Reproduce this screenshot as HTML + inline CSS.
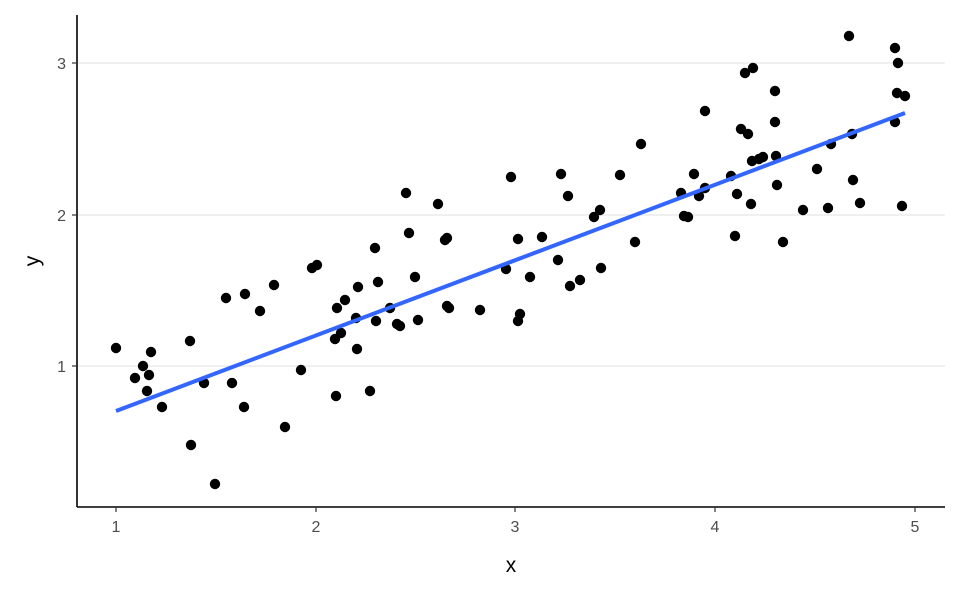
<!DOCTYPE html>
<html><head><meta charset="utf-8"><style>
html,body{margin:0;padding:0;background:#fff;}
svg{display:block;font-family:"Liberation Sans",sans-serif;}
</style></head><body>
<svg width="960" height="593" viewBox="0 0 960 593" xmlns="http://www.w3.org/2000/svg">
<rect width="960" height="593" fill="#fff"/>
<g stroke="#ebebeb" stroke-width="1.4">
<line x1="77" x2="945" y1="63" y2="63"/>
<line x1="77" x2="945" y1="215" y2="215"/>
<line x1="77" x2="945" y1="366" y2="366"/>
</g>
<g fill="#000">
<circle cx="116" cy="348" r="5.2"/><circle cx="135" cy="378" r="5.2"/><circle cx="143" cy="366" r="5.2"/><circle cx="147" cy="391" r="5.2"/><circle cx="149" cy="375" r="5.2"/><circle cx="151" cy="352" r="5.2"/><circle cx="162" cy="407" r="5.2"/><circle cx="190" cy="341" r="5.2"/><circle cx="191" cy="445" r="5.2"/><circle cx="204" cy="383" r="5.2"/><circle cx="215" cy="484" r="5.2"/><circle cx="226" cy="298" r="5.2"/><circle cx="232" cy="383" r="5.2"/><circle cx="244" cy="407" r="5.2"/><circle cx="245" cy="294" r="5.2"/><circle cx="260" cy="311" r="5.2"/><circle cx="274" cy="285" r="5.2"/><circle cx="285" cy="427" r="5.2"/><circle cx="301" cy="370" r="5.2"/><circle cx="312" cy="268" r="5.2"/><circle cx="317" cy="265" r="5.2"/><circle cx="335" cy="339" r="5.2"/><circle cx="336" cy="396" r="5.2"/><circle cx="337" cy="308" r="5.2"/><circle cx="341" cy="333" r="5.2"/><circle cx="345" cy="300" r="5.2"/><circle cx="356" cy="318" r="5.2"/><circle cx="357" cy="349" r="5.2"/><circle cx="358" cy="287" r="5.2"/><circle cx="370" cy="391" r="5.2"/><circle cx="375" cy="248" r="5.2"/><circle cx="376" cy="321" r="5.2"/><circle cx="378" cy="282" r="5.2"/><circle cx="390" cy="308" r="5.2"/><circle cx="397" cy="324" r="5.2"/><circle cx="400" cy="326" r="5.2"/><circle cx="406" cy="193" r="5.2"/><circle cx="409" cy="233" r="5.2"/><circle cx="415" cy="277" r="5.2"/><circle cx="418" cy="320" r="5.2"/><circle cx="438" cy="204" r="5.2"/><circle cx="445" cy="240" r="5.2"/><circle cx="447" cy="238" r="5.2"/><circle cx="447" cy="306" r="5.2"/><circle cx="449" cy="308" r="5.2"/><circle cx="480" cy="310" r="5.2"/><circle cx="506" cy="269" r="5.2"/><circle cx="511" cy="177" r="5.2"/><circle cx="518" cy="321" r="5.2"/><circle cx="518" cy="239" r="5.2"/><circle cx="520" cy="314" r="5.2"/><circle cx="530" cy="277" r="5.2"/><circle cx="542" cy="237" r="5.2"/><circle cx="558" cy="260" r="5.2"/><circle cx="561" cy="174" r="5.2"/><circle cx="568" cy="196" r="5.2"/><circle cx="570" cy="286" r="5.2"/><circle cx="580" cy="280" r="5.2"/><circle cx="594" cy="217" r="5.2"/><circle cx="600" cy="210" r="5.2"/><circle cx="601" cy="268" r="5.2"/><circle cx="620" cy="175" r="5.2"/><circle cx="635" cy="242" r="5.2"/><circle cx="641" cy="144" r="5.2"/><circle cx="681" cy="193" r="5.2"/><circle cx="684" cy="216" r="5.2"/><circle cx="688" cy="217" r="5.2"/><circle cx="694" cy="174" r="5.2"/><circle cx="699" cy="196" r="5.2"/><circle cx="705" cy="188" r="5.2"/><circle cx="705" cy="111" r="5.2"/><circle cx="731" cy="176" r="5.2"/><circle cx="735" cy="236" r="5.2"/><circle cx="737" cy="194" r="5.2"/><circle cx="741" cy="129" r="5.2"/><circle cx="745" cy="73" r="5.2"/><circle cx="748" cy="134" r="5.2"/><circle cx="751" cy="204" r="5.2"/><circle cx="752" cy="161" r="5.2"/><circle cx="753" cy="68" r="5.2"/><circle cx="759" cy="159" r="5.2"/><circle cx="763" cy="157" r="5.2"/><circle cx="775" cy="91" r="5.2"/><circle cx="775" cy="122" r="5.2"/><circle cx="776" cy="156" r="5.2"/><circle cx="777" cy="185" r="5.2"/><circle cx="783" cy="242" r="5.2"/><circle cx="803" cy="210" r="5.2"/><circle cx="817" cy="169" r="5.2"/><circle cx="828" cy="208" r="5.2"/><circle cx="831" cy="144" r="5.2"/><circle cx="849" cy="36" r="5.2"/><circle cx="852" cy="134" r="5.2"/><circle cx="853" cy="180" r="5.2"/><circle cx="860" cy="203" r="5.2"/><circle cx="895" cy="48" r="5.2"/><circle cx="895" cy="122" r="5.2"/><circle cx="897" cy="93" r="5.2"/><circle cx="898" cy="63" r="5.2"/><circle cx="902" cy="206" r="5.2"/><circle cx="905" cy="96" r="5.2"/>
</g>
<line x1="116" y1="411" x2="905" y2="113" stroke="#3366ff" stroke-width="4"/>
<g stroke="#000" stroke-width="1.6">
<line x1="77" y1="15" x2="77" y2="507"/>
<line x1="77" y1="507" x2="945" y2="507"/>
</g>
<g stroke="#333" stroke-width="1.2">
<line x1="72" x2="77" y1="63" y2="63"/><line x1="72" x2="77" y1="215" y2="215"/><line x1="72" x2="77" y1="366" y2="366"/>
<line x1="116" x2="116" y1="507" y2="512"/><line x1="316" x2="316" y1="507" y2="512"/><line x1="515" x2="515" y1="507" y2="512"/><line x1="715" x2="715" y1="507" y2="512"/><line x1="915" x2="915" y1="507" y2="512"/>
</g>
<g fill="#4d4d4d" font-size="16" text-anchor="end">
<text x="66" y="69">3</text><text x="66" y="221">2</text><text x="66" y="372">1</text>
</g>
<g fill="#4d4d4d" font-size="16" text-anchor="middle">
<text x="116" y="532">1</text><text x="316" y="532">2</text><text x="515" y="532">3</text><text x="715" y="532">4</text><text x="915" y="532">5</text>
</g>
<text x="511" y="572" font-size="21" text-anchor="middle" fill="#000">x</text>
<text transform="translate(39,261) rotate(-90)" font-size="21" text-anchor="middle" fill="#000">y</text>
</svg>
</body></html>
